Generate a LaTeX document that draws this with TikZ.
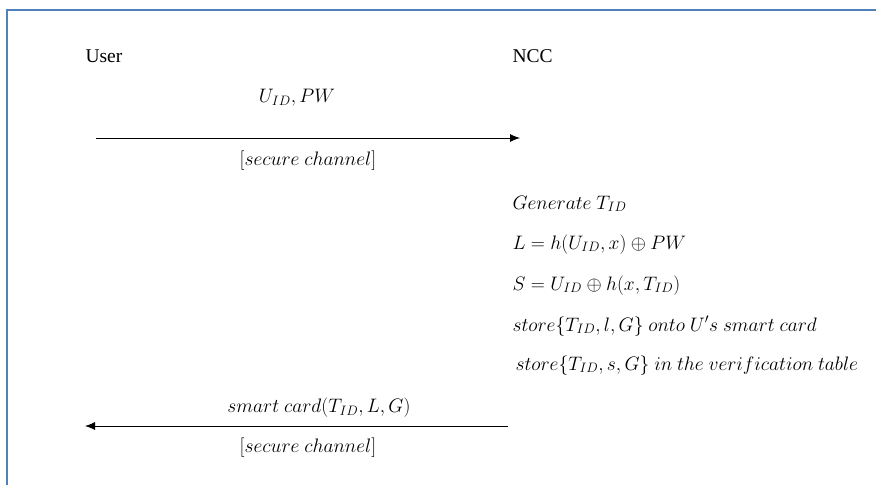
\RequirePackage{fix-cm}
\documentclass[tikz,border=0pt]{standalone}
\usepackage{fontspec}
\setmainfont{Liberation Serif}
\usetikzlibrary{arrows.meta}
\definecolor{framecol}{RGB}{79,129,189}
\tikzset{
  msg/.style={-{Latex[length=10pt,width=8pt]}, line width=0.8pt},
  mathtext/.style={font=\fontsize{19.5}{23}\selectfont},
  step line/.style={mathtext, anchor=base west}
}

\begin{document}
\begin{tikzpicture}[x=1pt, y=-1pt, font=\fontsize{19.5}{23}\selectfont]
    \useasboundingbox (0,0) rectangle (876,485);
    % frame, open on the right and at the bottom
    \draw[framecol, line width=2pt] (876,10) -- (7,10) -- (7,485);
    % the two parties
    \node[anchor=base west] (user) at (82,62) {User};
    \node[anchor=base west] (ncc) at (509,62) {NCC};
    % request: user to NCC
    \coordinate (req-start) at (96,138);
    \coordinate (req-end) at (520,138);
    \draw[msg] (req-start) -- (req-end);
    \node[mathtext] (req-data) at (297,98) {$U_{ID}, PW$};
    \node[mathtext] (req-chan) at (308,161) {$[secure\ channel]$};
    % NCC computations
    \node[step line] (gen) at (509,209) {$Generate\ T_{ID}$};
    \node[step line] (calcL) at (509,249) {$L = h(U_{ID},x) \oplus PW$};
    \node[step line] (calcS) at (509,290) {$S = U_{ID} \oplus h(x,T_{ID})$};
    \node[step line] (card) at (509,331) {$store\{T_{ID},l,G\}\ onto\ U's\ smart\ card$};
    \node[step line] (table) at (512,370) {$store\{T_{ID},s,G\}\ in\ the\ verification\ table$};
    % reply: NCC to user
    \coordinate (rep-start) at (508,426);
    \coordinate (rep-end) at (85,426);
    \draw[msg] (rep-start) -- (rep-end);
    \node[mathtext] (rep-data) at (319,408) {$smart\ card(T_{ID},L,G)$};
    \node[mathtext] (rep-chan) at (308,448) {$[secure\ channel]$};
\end{tikzpicture}
\end{document}
